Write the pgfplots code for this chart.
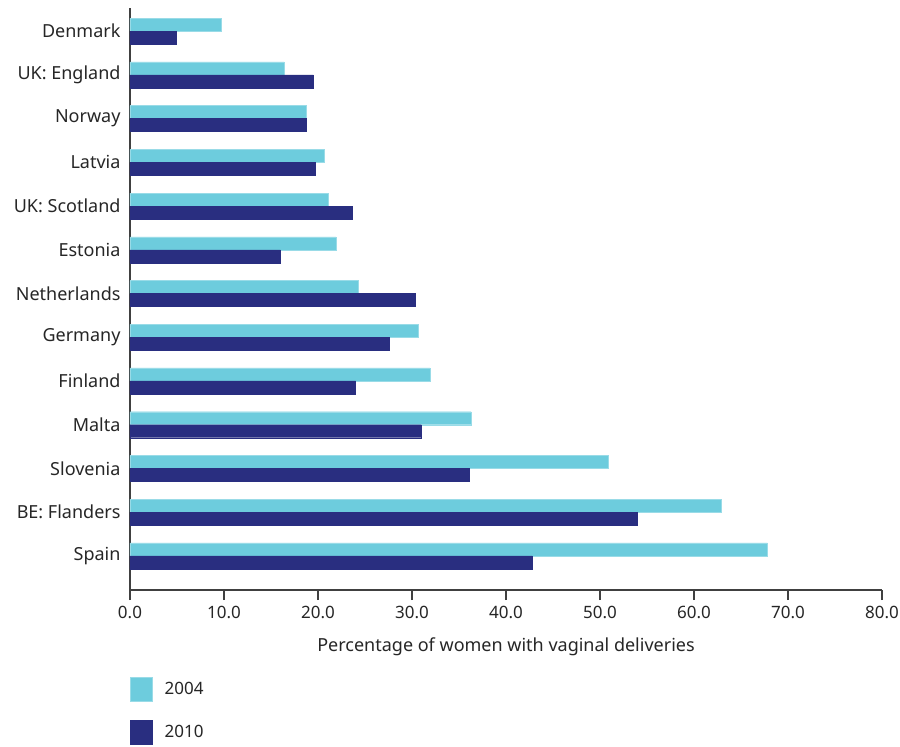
\documentclass[border=0pt]{standalone}
\usepackage{fontspec}
\setmainfont{Noto Sans}
\usepackage{pgfplots}
\pgfplotsset{compat=1.18}
\definecolor{c2004}{RGB}{109,204,221}
\definecolor{c2010}{RGB}{41,46,128}
\newcommand{\lblfont}{\fontsize{18pt}{21pt}\selectfont}
\begin{document}
\begin{tikzpicture}[x=1pt,y=1pt]
\path[use as bounding box] (0,0) rectangle (900,747);
\begin{axis}[
  at={(130pt,157pt)}, anchor=south west,
  scale only axis,
  width=752pt, height=582pt,
  xbar, bar width=13pt,
  xmin=0, xmax=80,
  ymin=-0.53, ymax=12.78,
  y dir=reverse,
  axis x line*=bottom, axis y line*=left,
  axis line style={black!75, line width=1.2pt},
  xtick={0,10,...,80},
  xticklabel={\pgfmathprintnumber[fixed,fixed zerofill,precision=1]{\tick}},
  /pgf/number format/assume math mode=true,
  x tick label style={font=\fontsize{17pt}{20pt}\selectfont, text=black!85, yshift=-3pt},
  tick style={black!75, line width=1.2pt},
  major tick length=10pt,
  xtick align=outside,
  ytick={0,...,12},
  yticklabels={Denmark,UK: England,Norway,Latvia,UK: Scotland,Estonia,Netherlands,Germany,Finland,Malta,Slovenia,BE: Flanders,Spain},
  y tick label style={font=\lblfont, text=black!85, xshift=4pt},
  ytick style={draw=none},
  xlabel={Percentage of women with vaginal deliveries},
  xlabel style={font=\lblfont, text=black!85, yshift=-12pt},
  legend style={at={(0,0)}, anchor=north west, yshift=-87pt, draw=none, fill=none,
    inner sep=0pt, row sep=18pt, font=\fontsize{17pt}{20pt}\selectfont, text=black!85,
    cells={anchor=west}},
  legend cell align=left,
  legend image code/.code={\fill[#1] (0pt,-12pt) rectangle (22pt,12pt); \path (32pt,0pt);},
]
\addplot[fill=c2004, draw=c2004!70!white, bar shift=6.5pt] coordinates {
(9.7,0) (16.4,1) (18.7,2) (20.7,3) (21.1,4) (21.9,5) (24.3,6) (30.7,7) (31.9,8) (36.3,9) (50.9,10) (62.9,11) (67.8,12)};
\addplot[fill=c2010, draw=c2010, bar shift=-6.5pt] coordinates {
(4.9,0) (19.5,1) (18.7,2) (19.7,3) (23.6,4) (16.0,5) (30.3,6) (27.6,7) (24.0,8) (31.0,9) (36.1,10) (54.0,11) (42.8,12)};
\legend{2004,2010}
\end{axis}
\end{tikzpicture}
\end{document}
